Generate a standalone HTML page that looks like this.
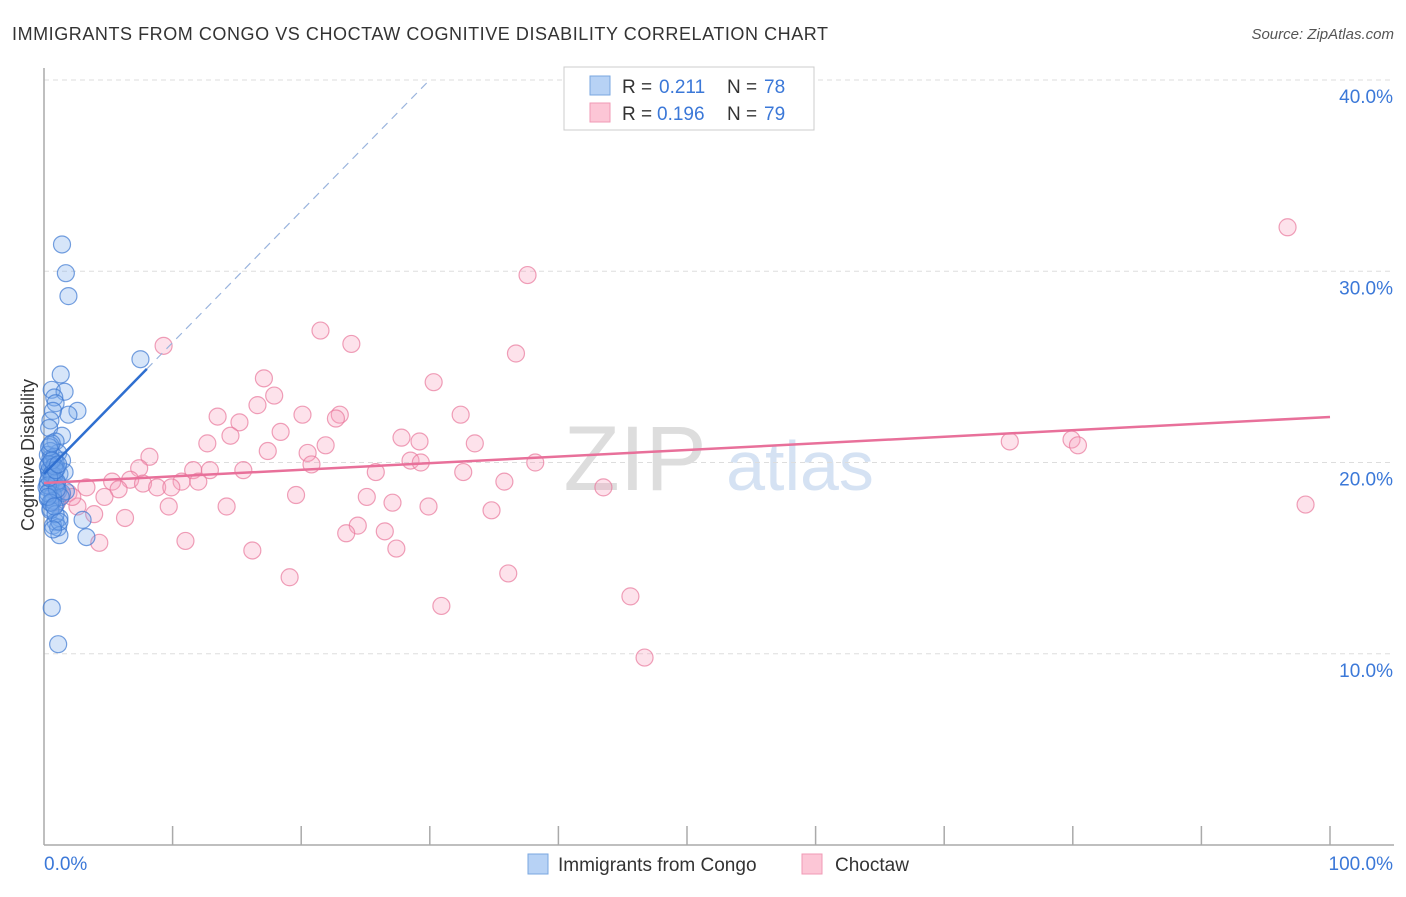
<!DOCTYPE html>
<html><head><meta charset="utf-8"><style>
body{margin:0;background:#fff;font-family:"Liberation Sans",sans-serif;}
svg text{font-family:"Liberation Sans",sans-serif;}
</style></head><body>
<svg width="1406" height="892" xmlns="http://www.w3.org/2000/svg">
<text x="12" y="40" font-size="18" fill="#333" textLength="816">IMMIGRANTS FROM CONGO VS CHOCTAW COGNITIVE DISABILITY CORRELATION CHART</text>
<text x="1394" y="39" font-size="15" fill="#555" font-style="italic" text-anchor="end">Source: ZipAtlas.com</text>
<g>
<text x="635" y="490" font-size="92" fill="#ddd" font-family="Liberation Serif" text-anchor="middle">ZIP</text>
<text x="800" y="490" font-size="70" fill="#d5e2f3" text-anchor="middle">atlas</text>
</g>
<g id="grid"></g>
<g id="axes"></g>
<g id="marks"></g>
<text x="34" y="455" font-size="18" fill="#333" text-anchor="middle" transform="rotate(-90 34 455)">Cognitive Disability</text>
<g>
<rect x="564" y="67" width="250" height="63" fill="#fff" stroke="#ccc"/>
<rect x="590" y="76" width="20" height="19" fill="#b7d2f5" stroke="#7aa7e0"/>
<rect x="590" y="103" width="20" height="19" fill="#fcc6d6" stroke="#f09ab5"/>
<text x="622" y="93" font-size="19" fill="#333">R =</text>
<text x="659" y="93" font-size="19" fill="#3b78d8">0.211</text>
<text x="727" y="93" font-size="19" fill="#333">N =</text>
<text x="764" y="93" font-size="19" fill="#3b78d8">78</text>
<text x="622" y="120" font-size="19" fill="#333">R =</text>
<text x="657" y="120" font-size="19" fill="#3b78d8">0.196</text>
<text x="727" y="120" font-size="19" fill="#333">N =</text>
<text x="764" y="120" font-size="19" fill="#3b78d8">79</text>
</g>
<g>
<rect x="528" y="854" width="20" height="20" fill="#b7d2f5" stroke="#7aa7e0"/>
<text x="558" y="871" font-size="19" fill="#333">Immigrants from Congo</text>
<rect x="802" y="854" width="20" height="20" fill="#fcc6d6" stroke="#f09ab5"/>
<text x="835" y="871" font-size="19" fill="#333">Choctaw</text>
</g>
</svg>
<script>
const yTicks=[10,20,30,40];
const yTickLabels=["10.0%","20.0%","30.0%","40.0%"];
const xTickLabels=["0.0%","100.0%"];
const blueX=[1.4,1.7,1.9,7.5,1.3,0.6,1.6,0.8,0.9,0.7,2.6,1.9,0.5,0.4,1.4,0.9,0.5,1.1,0.3,1.4,0.6,1.0,0.4,1.2,0.7,1.6,0.3,0.9,0.5,1.1,1.4,1.7,0.3,0.6,0.9,0.5,1.2,0.9,0.7,1.1,3.0,1.2,3.3,0.6,1.1,0.3,0.5,0.9,0.4,0.8,0.6,1.0,0.2,0.7,1.3,0.5,0.8,0.4,0.6,1.0,0.3,0.7,0.5,0.9,1.2,0.4,0.6,0.8,0.3,1.0,0.5,0.7,0.4,0.6,0.9,0.3,0.8,1.1];
const blueY=[31.4,29.9,28.7,25.4,24.6,23.8,23.7,23.4,23.1,22.7,22.7,22.5,22.2,21.8,21.4,21.1,20.9,20.5,20.4,20.1,19.9,19.7,19.5,19.4,19.2,19.5,19.0,18.8,18.6,18.5,18.4,18.5,18.1,17.9,17.8,17.6,17.1,16.9,16.7,16.6,17.0,16.2,16.1,12.4,10.5,19.8,20.2,20.0,19.6,19.3,19.1,18.9,18.7,18.3,18.2,20.6,20.3,19.9,19.4,19.0,18.8,18.0,17.5,17.3,16.9,20.8,21.0,19.8,18.4,18.6,17.9,16.5,19.2,20.1,19.6,18.2,17.7,19.9];
const pinkX=[96.7,37.6,21.5,23.9,36.7,9.3,17.1,30.3,17.9,16.6,13.5,20.1,23.0,22.7,32.4,15.2,18.4,14.5,27.8,29.2,12.7,33.5,21.9,17.4,20.5,8.2,28.5,29.3,20.8,38.2,75.1,79.9,80.4,98.1,7.4,11.6,12.9,15.5,25.8,32.6,6.7,10.7,12.0,7.7,5.3,8.8,9.9,5.8,3.3,35.8,43.5,4.7,1.9,19.6,25.1,27.1,9.7,14.2,29.9,34.8,2.6,3.9,6.3,24.4,26.5,23.5,4.3,11.0,16.2,27.4,19.1,36.1,30.9,45.6,46.7,0.9,1.4,2.2,1.0];
const pinkY=[32.3,29.8,26.9,26.2,25.7,26.1,24.4,24.2,23.5,23.0,22.4,22.5,22.5,22.3,22.5,22.1,21.6,21.4,21.3,21.1,21.0,21.0,20.9,20.6,20.5,20.3,20.1,20.0,19.9,20.0,21.1,21.2,20.9,17.8,19.7,19.6,19.6,19.6,19.5,19.5,19.1,19.0,19.0,18.9,19.0,18.7,18.7,18.6,18.7,19.0,18.7,18.2,18.4,18.3,18.2,17.9,17.7,17.7,17.7,17.5,17.7,17.3,17.1,16.7,16.4,16.3,15.8,15.9,15.4,15.5,14.0,14.2,12.5,13.0,9.8,18.5,18.3,18.2,17.9];
const blueLine=[19.4,0.687];
const pinkLine=[18.93,0.0345];
const X0=44,X1=1330,Y0=845,Y40=80;
const sx=v=>X0+(X1-X0)*v/100;
const sy=v=>Y0-(Y0-Y40)*v/40;
const NS="http://www.w3.org/2000/svg";
function mk(t,a,p){const e=document.createElementNS(NS,t);for(const k in a)e.setAttribute(k,a[k]);p.appendChild(e);return e;}
const grid=document.getElementById('grid'),axes=document.getElementById('axes'),marks=document.getElementById('marks');
yTicks.forEach((t,i)=>{
 const l=mk('line',{x1:X0,x2:1394,y1:sy(t),y2:sy(t),stroke:'#ddd','stroke-dasharray':'5,4'},grid);
 
 
 const tx=mk('text',{x:1393,y:sy(t)+23,'font-size':19,fill:'#3b78d8','text-anchor':'end'},axes);
 tx.textContent=yTickLabels[i];
 
 
});
mk('line',{x1:X0,x2:X0,y1:68,y2:Y0,stroke:'#aaa','stroke-width':1.5},axes);
mk('line',{x1:X0,x2:1394,y1:Y0,y2:Y0,stroke:'#aaa','stroke-width':1.5},axes);
for(let i=1;i<=10;i++){mk('line',{x1:sx(i*10),x2:sx(i*10),y1:826,y2:Y0,stroke:'#aaa','stroke-width':1.5},axes);}
const xl0=mk('text',{x:44,y:870,'font-size':19,fill:'#3b78d8'},axes);xl0.textContent=xTickLabels[0];


const xl1=mk('text',{x:1393,y:870,'font-size':19,fill:'#3b78d8','text-anchor':'end'},axes);xl1.textContent=xTickLabels[1];


pinkX.forEach((x,i)=>{
 const c=mk('circle',{cx:sx(x),cy:sy(pinkY[i]),r:8.5,fill:'rgba(248,160,188,0.3)',stroke:'rgba(232,120,155,0.7)','stroke-width':1.2},marks);
 
 
});
blueX.forEach((x,i)=>{
 const c=mk('circle',{cx:sx(x),cy:sy(blueY[i]),r:8.5,fill:'rgba(120,170,235,0.3)',stroke:'rgba(60,120,210,0.7)','stroke-width':1.2},marks);
 
 
});
const bl=mk('line',{x1:sx(0),y1:sy(blueLine[0]),x2:sx(8),y2:sy(blueLine[0]+blueLine[1]*8),stroke:'#2f6fd0','stroke-width':2.5},marks);


const xe=(40-blueLine[0])/blueLine[1];
const bd=mk('line',{x1:sx(8),y1:sy(blueLine[0]+blueLine[1]*8),x2:sx(xe),y2:sy(40),stroke:'#9ab4dd','stroke-width':1.2,'stroke-dasharray':'8,6'},marks);


const pl=mk('line',{x1:sx(0),y1:sy(pinkLine[0]),x2:sx(100),y2:sy(pinkLine[0]+pinkLine[1]*100),stroke:'#e8709a','stroke-width':2.5},marks);


</script>
</body></html>
